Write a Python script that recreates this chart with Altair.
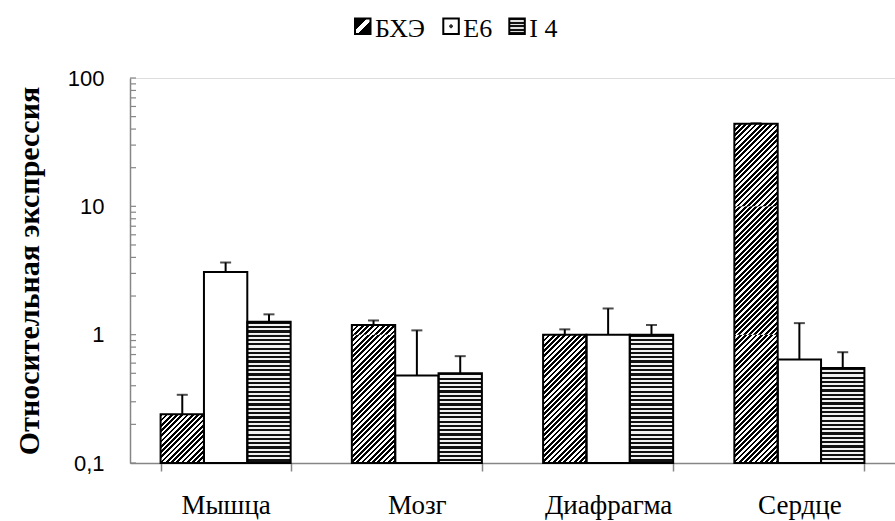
import math
import altair as alt
import pandas as pd

# --- data -----------------------------------------------------------------
categories = ["Мышца", "Мозг", "Диафрагма", "Сердце"]
series = ["БХЭ", "E6", "I 4"]

bhe = [0.24, 1.19, 1.0, 44.0]
bhe_err = [0.10, 0.10, 0.10, 0.4]
e6 = [3.08, 0.48, 1.0, 0.64]
e6_err = [0.57, 0.60, 0.60, 0.59]
i4 = [1.26, 0.50, 1.0, 0.55]
i4_err = [0.18, 0.18, 0.19, 0.18]

y_labels = [0.1, 1, 10, 100]
y_ticks = [m * d for d in (0.1, 1, 10) for m in range(1, 10)] + [100]
decades = [(0.1, 1), (1, 10), (10, 100)]

# --- layout ---------------------------------------------------------------
W, H = 765, 385
PAD = {"left": 130, "top": 78, "right": 0, "bottom": 58}
Y_MIN, Y_MAX = 0.1, 100
PAD_INNER = 0.32
AXIS_GREY = "#868686"
SERIF = "Liberation Serif"

step = W / len(categories)
bar_w = step * (1 - PAD_INNER) / len(series)


def px(v):
    return H * math.log10(v / Y_MIN) / math.log10(Y_MAX / Y_MIN)


# --- fills ----------------------------------------------------------------
def stripes(length, period, frac=0.5, dark="#000000", light="#ffffff"):
    stops = []
    i = 0
    while i * period < length:
        a = i * period / length
        b = min((i + frac) * period / length, 1)
        c = min((i + 1) * period / length, 1)
        stops += [
            {"offset": a, "color": dark},
            {"offset": b, "color": dark},
            {"offset": b, "color": light},
            {"offset": c, "color": light},
        ]
        i += 1
    return stops


def diagonal_fill(w, h, period=5.25):
    # isolines x + y = const give "/" hatching at 45 degrees in pixel space;
    # a non-integer period keeps the dark/light share even on the pixel grid
    s = w + h
    k = s / (w * w + h * h)
    return {"gradient": "linear", "x1": 0, "y1": 0, "x2": w * k, "y2": h * k,
            "stops": stripes(s, period, frac=0.55)}


def horizontal_fill(h, period=4.3):
    return {"gradient": "linear", "x1": 0, "y1": 0, "x2": 0, "y2": 1,
            "stops": stripes(h, period, dark="#111111", light="#f2f2f2")}


rows = []
for s_name, vals, errs in [("БХЭ", bhe, bhe_err), ("E6", e6, e6_err), ("I 4", i4, i4_err)]:
    for c, v, e in zip(categories, vals, errs):
        rows.append({"cat": c, "ser": s_name, "val": v, "top": v + e, "base": Y_MIN})
df = pd.DataFrame(rows)

# --- scales / axes --------------------------------------------------------
x_axis = alt.Axis(
    title=None, labelAngle=0, labelFont=SERIF, labelFontSize=27, labelColor="black",
    labelPadding=21, domainColor=AXIS_GREY, domainWidth=1.5, tickColor=AXIS_GREY,
    tickWidth=1.5, tickSize=8, tickBand="extent", grid=False,
)
y_axis = alt.Axis(
    title="Относительная экспрессия", titleFont=SERIF, titleFontSize=30,
    titleFontWeight="bold", titleColor="black", titleAngle=270, titleX=-101,
    titleY=H / 2, titleAlign="center", titleBaseline="middle",
    values=y_labels, labelExpr="datum.value < 1 ? '0,1' : format(datum.value, 'd')",
    labelFont="Liberation Sans", labelFontSize=22, labelColor="black",
    labelPadding=26, ticks=False, domainColor=AXIS_GREY, domainWidth=1.5, grid=False,
)
x_enc = alt.X("cat:N", sort=categories, axis=x_axis,
              scale=alt.Scale(domain=categories, paddingInner=PAD_INNER,
                              paddingOuter=PAD_INNER / 2))
xo_enc = alt.XOffset("ser:N", sort=series,
                     scale=alt.Scale(domain=series, paddingInner=0, paddingOuter=0))
y_scale = alt.Scale(type="log", domain=[Y_MIN, Y_MAX])

layers = []

# white base for every bar
layers.append(
    alt.Chart(df).mark_bar(fill="#ffffff", strokeWidth=0).encode(
        x=x_enc, xOffset=xo_enc,
        y=alt.Y("val:Q", scale=y_scale, axis=y_axis), y2=alt.Y2("base:Q"))
)

# textured fills, painted one decade at a time
for _, r in df.iterrows():
    if r["ser"] == "E6":
        continue
    for lo, hi in decades:
        if r["val"] <= lo:
            continue
        seg_h = px(min(r["val"], hi)) - px(lo)
        if r["ser"] == "БХЭ":
            fill = diagonal_fill(bar_w, seg_h)
        else:
            fill = horizontal_fill(seg_h)
        layers.append(
            alt.Chart(df)
            .transform_filter((alt.datum.cat == r["cat"]) & (alt.datum.ser == r["ser"]))
            .transform_calculate(seg_lo=f"{lo}", seg_hi=f"min(datum.val, {hi})")
            .mark_bar(fill=fill, strokeWidth=0)
            .encode(x=x_enc, xOffset=xo_enc,
                    y=alt.Y("seg_hi:Q", scale=y_scale, axis=y_axis),
                    y2=alt.Y2("seg_lo:Q"))
        )

# bar outlines
layers.append(
    alt.Chart(df).mark_bar(fillOpacity=0, stroke="black", strokeWidth=2).encode(
        x=x_enc, xOffset=xo_enc,
        y=alt.Y("val:Q", scale=y_scale, axis=y_axis), y2=alt.Y2("base:Q"))
)

# upper error whiskers with caps
layers.append(
    alt.Chart(df).mark_rule(color="black", strokeWidth=2).encode(
        x=x_enc, xOffset=xo_enc,
        y=alt.Y("val:Q", scale=y_scale, axis=y_axis), y2=alt.Y2("top:Q"))
)
layers.append(
    alt.Chart(df).mark_tick(color="black", thickness=2, size=11).encode(
        x=x_enc, xOffset=xo_enc, y=alt.Y("top:Q", scale=y_scale, axis=y_axis))
)

# inward log ticks on the value axis
layers.append(
    alt.Chart(pd.DataFrame({"v": y_ticks})).mark_rule(color=AXIS_GREY, strokeWidth=1.2)
    .encode(y=alt.Y("v:Q", scale=y_scale, axis=y_axis),
            x=alt.value(0), x2=alt.value(6))
)

# legend above the plot
legend_items = [
    ("БХЭ", 225, {"gradient": "linear", "x1": 0, "y1": 0, "x2": 1, "y2": 1,
                  "stops": [{"offset": 0, "color": "#000"}, {"offset": 0.4, "color": "#000"},
                            {"offset": 0.4, "color": "#fff"}, {"offset": 0.58, "color": "#fff"},
                            {"offset": 0.58, "color": "#000"}, {"offset": 1, "color": "#000"}]}),
    ("E6", 313.3, {"gradient": "radial", "x1": 0.5, "y1": 0.5, "r1": 0,
                   "x2": 0.5, "y2": 0.5, "r2": 0.5,
                   "stops": [{"offset": 0, "color": "#333"}, {"offset": 0.22, "color": "#333"},
                             {"offset": 0.22, "color": "#fff"}, {"offset": 1, "color": "#fff"}]}),
    ("I 4", 379.3, {"gradient": "linear", "x1": 0, "y1": 0, "x2": 0, "y2": 1,
                    "stops": stripes(16, 3.6, dark="#111111", light="#e0e0e0")}),
]
SW = 15.5
for name, lx, fill in legend_items:
    item = pd.DataFrame({"ser": [name]})
    layers.append(
        alt.Chart(item).mark_rect(fill=fill, stroke="black", strokeWidth=2).encode(
            x=alt.value(lx), x2=alt.value(lx + SW),
            y=alt.value(-59.5), y2=alt.value(-59.5 + SW))
    )
    layers.append(
        alt.Chart(item).mark_text(font=SERIF, fontSize=26, align="left",
                                  baseline="alphabetic", color="black").encode(
            x=alt.value(lx + 20), y=alt.value(-41.5), text="ser:N")
    )

chart = (
    alt.layer(*layers)
    .properties(width=W, height=H, padding=PAD,
                autosize=alt.AutoSizeParams(type="none"))
    .configure_view(stroke=None)
    .configure(background="white")
)

chart.save("out.html", embed_options={"renderer": "svg", "actions": False})
